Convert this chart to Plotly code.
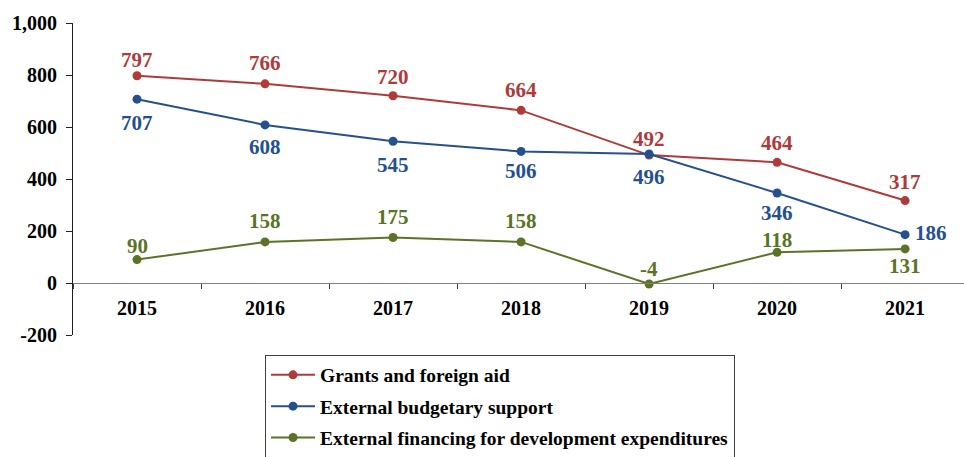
import plotly.graph_objects as go

years = ["2015", "2016", "2017", "2018", "2019", "2020", "2021"]
grants = [797, 766, 720, 664, 492, 464, 317]
budget_support = [707, 608, 545, 506, 496, 346, 186]
dev_financing = [90, 158, 175, 158, -4, 118, 131]

y_ticks = [-200, 0, 200, 400, 600, 800, 1000]
y_tick_text = ["-200", "0", "200", "400", "600", "800", "1,000"]

RED = "#B03A3A"
BLUE = "#24508F"
GREEN = "#5B7327"
FONT = "Liberation Serif"

# vertical pixel offsets of the value labels from their points
red_dy = [16, 21, 19, 20, 16, 19, 19]
blue_dy = [-24, -22, -24, -20, -23, -20, 2]
green_dy = [14, 21, 21, 21, 15, 12, -17]

series = [
    ("Grants and foreign aid", grants, RED, red_dy),
    ("External budgetary support", budget_support, BLUE, blue_dy),
    ("External financing for development expenditures", dev_financing, GREEN, green_dy),
]

fig = go.Figure()
for i, (name, vals, color, shifts) in enumerate(series):
    fig.add_trace(go.Scatter(
        x=years, y=vals, name=name, mode="lines+markers",
        line=dict(color=color, width=2),
        marker=dict(color=color, size=9),
        legendgroup=f"g{i}",
        cliponaxis=False,
    ))
    # category positions are addressed by index on the category axis
    for idx, (v, dy) in enumerate(zip(vals, shifts)):
        side = name.startswith("External budgetary") and idx == len(vals) - 1
        fig.add_annotation(
            x=idx, y=v, xref="x", yref="y", text=str(v), showarrow=False,
            xanchor="left" if side else "center", yanchor="middle",
            xshift=8 if side else 0, yshift=dy,
            font=dict(family=FONT, size=21, color=color, weight="bold"),
        )

fig.update_layout(
    width=964, height=457,
    margin=dict(l=73, r=0, t=23, b=122, autoexpand=False),
    paper_bgcolor="white", plot_bgcolor="white",
    font=dict(family=FONT, color="black"),
    showlegend=True,
    legend=dict(
        x=0.2155, y=-0.063, xanchor="left", yanchor="top",
        bordercolor="#404040", borderwidth=1,
        font=dict(family=FONT, size=19.5, color="black", weight="bold"),
        tracegroupgap=3,
        itemwidth=44,
    ),
    xaxis=dict(
        type="category", range=[-0.5, 6.46],
        anchor="free", position=1 / 6,
        showline=True, linecolor="#808080", linewidth=1,
        ticks="outside", ticklen=5, tickcolor="#404040",
        tickson="boundaries",
        showgrid=False, zeroline=False,
        tickfont=dict(family=FONT, size=20, color="black", weight="bold"),
        ticklabelstandoff=7,
    ),
    yaxis=dict(
        range=[-200, 1000], tickvals=y_ticks, ticktext=y_tick_text,
        showline=True, linecolor="#202020", linewidth=1,
        ticks="outside", ticklen=6, tickcolor="#202020",
        showgrid=False, zeroline=False,
        tickfont=dict(family=FONT, size=20, color="black", weight="bold"),
        ticklabelstandoff=5,
    ),
)

fig.write_html("out.html")
